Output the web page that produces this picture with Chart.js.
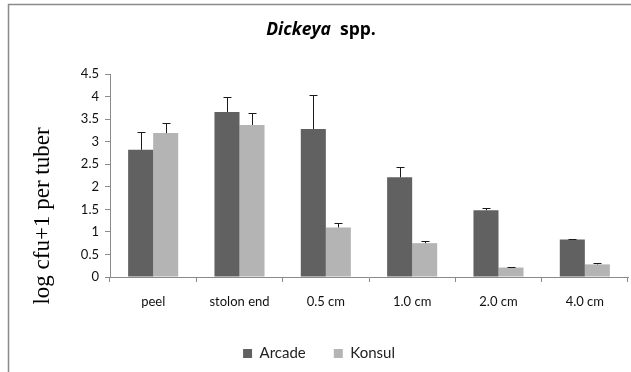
<!DOCTYPE html>
<html>
<head>
<meta charset="utf-8">
<script src="https://cdn.jsdelivr.net/npm/chart.js@4/dist/chart.umd.min.js"></script>
<style>
  html, body { margin: 0; padding: 0; background: #fff; }
  #wrap { position: relative; width: 631px; height: 372px; }
  canvas { display: block; }
</style>
</head>
<body>
<div id="wrap"><canvas id="c" width="631" height="372"></canvas></div>
<script>
// Sampling positions along the tuber
const categories = ['peel', 'stolon end', '0.5 cm', '1.0 cm', '2.0 cm', '4.0 cm'];

// Mean log cfu+1 per tuber for each cultivar
const arcadeValues = [2.82, 3.66, 3.28, 2.21, 1.48, 0.83];
const konsulValues = [3.19, 3.37, 1.10, 0.75, 0.21, 0.28];

// Upper error (standard error) for each bar
const arcadeErrors = [0.39, 0.33, 0.75, 0.22, 0.04, 0.01];
const konsulErrors = [0.22, 0.27, 0.09, 0.04, 0.02, 0.04];

// Y axis range and step
const yMin = 0;
const yMax = 4.5;
const yStep = 0.5;

const yTitle = 'log cfu+1 per tuber';

const tickFont = { family: 'Lato, "Open Sans", sans-serif', size: 13 };
const legendFont = { family: 'Lato, "Open Sans", sans-serif', size: 15 };

// Upward error bars with a cap, drawn from the bar values
const errorBars = {
  id: 'errorBars',
  afterDatasetsDraw(chart) {
    const { ctx, scales: { y } } = chart;
    ctx.save();
    ctx.strokeStyle = '#1a1a1a';
    ctx.lineWidth = 1;
    chart.data.datasets.forEach((ds, i) => {
      const meta = chart.getDatasetMeta(i);
      meta.data.forEach((bar, j) => {
        const v = ds.data[j];
        const top = y.getPixelForValue(v + ds.errors[j]);
        const x = Math.round(bar.x) + 0.5;
        const yt = Math.round(top) + 0.5;
        ctx.beginPath();
        ctx.moveTo(x, bar.y);
        ctx.lineTo(x, yt);
        ctx.moveTo(x - 4, yt);
        ctx.lineTo(x + 4, yt);
        ctx.stroke();
      });
    });
    ctx.restore();
  }
};

// Outer frame, title with italic genus name, and rotated y axis title
const frameAndTitle = {
  id: 'frameAndTitle',
  beforeDraw(chart) {
    const ctx = chart.ctx;
    ctx.save();
    ctx.fillStyle = '#fff';
    ctx.fillRect(0, 0, chart.width, chart.height);
    ctx.strokeStyle = '#8a8a8a';
    ctx.lineWidth = 1.5;
    ctx.beginPath();
    ctx.moveTo(8.5, chart.height);
    ctx.lineTo(8.5, 4.5);
    ctx.lineTo(chart.width, 4.5);
    ctx.stroke();
    ctx.restore();
  },
  afterDraw(chart) {
    const ctx = chart.ctx;
    ctx.save();
    ctx.fillStyle = '#000';
    ctx.textBaseline = 'middle';
    const part1 = 'Dickeya';
    const part2 = '  spp.';
    const italicFont = 'italic bold 17.5px "Open Sans", sans-serif';
    const boldFont = 'bold 17.5px "Open Sans", sans-serif';
    ctx.font = italicFont;
    const w1 = ctx.measureText(part1).width;
    ctx.font = boldFont;
    const w2 = ctx.measureText(part2).width;
    const x = 321 - (w1 + w2) / 2;
    ctx.textAlign = 'left';
    ctx.font = italicFont;
    ctx.fillText(part1, x, 30);
    ctx.font = boldFont;
    ctx.fillText(part2, x + w1, 30);

    // y axis title
    ctx.translate(43, 216);
    ctx.rotate(-Math.PI / 2);
    ctx.textAlign = 'center';
    ctx.font = '23px "Liberation Serif", "Times New Roman", serif';
    ctx.fillText(yTitle, 0, 0);
    ctx.restore();
  }
};

new Chart(document.getElementById('c'), {
  type: 'bar',
  data: {
    labels: categories,
    datasets: [
      { label: 'Arcade', data: arcadeValues, errors: arcadeErrors, backgroundColor: '#616161', borderWidth: 0 },
      { label: 'Konsul', data: konsulValues, errors: konsulErrors, backgroundColor: '#b4b4b4', borderWidth: 0 }
    ]
  },
  options: {
    responsive: false,
    animation: false,
    devicePixelRatio: 1,
    layout: { padding: { top: 74, left: 10, right: 3, bottom: 1 } },
    datasets: { bar: { categoryPercentage: 0.58, barPercentage: 1.0 } },
    plugins: {
      title: { display: false },
      tooltip: { enabled: false },
      legend: {
        display: true,
        position: 'bottom',
        labels: {
          boxWidth: 9,
          boxHeight: 9,
          padding: 28,
          color: '#222',
          font: legendFont
        }
      }
    },
    scales: {
      x: {
        grid: { display: true, drawOnChartArea: false, offset: true, tickLength: 5, color: '#8a8a8a' },
        border: { color: '#8a8a8a' },
        ticks: { color: '#111', font: tickFont, padding: 12, maxRotation: 0 },
        afterFit(scale) {
          scale.height = 41;
          scale.paddingLeft = 0;
          scale.paddingRight = 0;
        }
      },
      y: {
        min: yMin,
        max: yMax,
        ticks: { stepSize: yStep, color: '#111', font: tickFont, padding: 6, callback: (v) => String(v) },
        grid: { display: true, drawOnChartArea: false, tickLength: 5, color: '#8a8a8a' },
        border: { color: '#8a8a8a' },
        afterFit(scale) {
          scale.width = 100;
          scale.paddingTop = 0;
          scale.paddingBottom = 0;
        }
      }
    }
  },
  plugins: [frameAndTitle, errorBars]
});
</script>
</body>
</html>
